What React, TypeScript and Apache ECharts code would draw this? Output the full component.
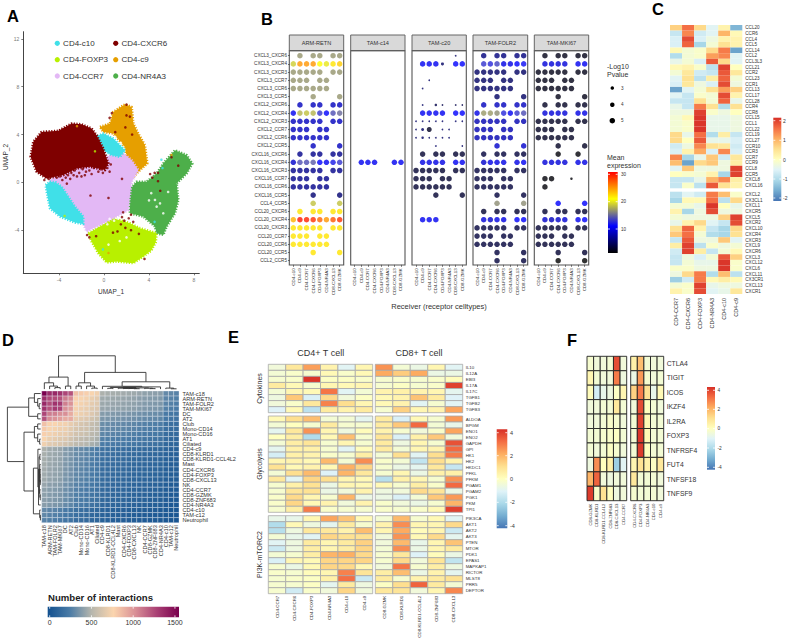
import React, { useEffect, useRef } from "react";
import * as echarts from "echarts";

const FONT = "Liberation Sans";

// ---------- Panel A ----------
const UMAP_X_TICKS = [-4, 0, 4, 8];
const UMAP_Y_TICKS = [-4, 0, 4, 8, 12];
const CCR7_SHAPE = [[-4.8,0.19],[-3.61,1.03],[-1.54,1.58],[0.24,2.14],[1.42,2.69],[2.46,1.86],[3.05,1.03],[2.46,0.06],[2.25,-1.47],[2.16,-2.31],[1.13,-2.86],[-0.06,-3.42],[-1.54,-4.11],[-1.99,-3.14],[-3.91,-2.03],[-4.8,-0.92]];
const CXCR6_SHAPE = [[-6.52,2.14],[-6.28,3.39],[-5.54,4.22],[-4.06,4.31],[-2.87,4.92],[-1.99,4.86],[-1.1,4.5],[-0.65,3.94],[-0.36,3.39],[-0.06,2.83],[0.39,1.58],[0.09,1.03],[-1.24,1.31],[-2.43,1.17],[-3.61,0.61],[-5.1,0.33],[-5.99,0.89]];
const C10_SHAPE_A = [[-5.19,-0.22],[-4.8,0.06],[-4.3,0.0],[-3.76,-0.36],[-3.17,-1.19],[-2.58,-2.03],[-1.84,-2.86],[-1.84,-3.47],[-2.58,-3.36],[-3.91,-2.86],[-4.8,-2.17],[-5.01,-1.19]];
const C10_SHAPE_B = [[-0.8,3.81],[-0.06,4.08],[0.83,3.67],[1.87,2.69],[1.42,2.14],[0.68,2.28],[-0.06,2.69],[-0.5,3.39]];
const C9_SHAPE = [[-0.36,4.64],[0.53,4.92],[0.83,5.89],[1.87,6.53],[2.46,6.31],[2.61,4.92],[3.05,4.08],[3.64,3.11],[3.85,1.58],[3.2,1.03],[2.61,0.47],[2.16,1.03],[1.87,2.97],[0.83,4.08],[-0.06,4.22]];
const NR4A3_SHAPE = [[2.25,-0.64],[2.9,0.06],[3.79,0.06],[4.68,0.75],[5.27,1.58],[6.31,2.69],[7.35,2.28],[7.85,1.58],[7.35,0.75],[6.46,-0.08],[6.61,-1.47],[6.31,-2.58],[5.57,-3.69],[5.27,-4.39],[4.68,-4.25],[4.53,-3.69],[3.5,-2.86],[2.31,-2.58]];
const FOXP3_SHAPE = [[-1.39,-4.25],[-0.36,-3.69],[0.83,-3.0],[2.31,-3.42],[3.2,-3.83],[4.68,-4.25],[4.6,-5.0],[4.2,-5.7],[3.5,-6.19],[2.61,-6.75],[1.13,-6.61],[0.24,-6.69],[-0.5,-5.92],[-1.1,-4.94]];
const CXCR6_SPECKS = [[-4.9,0.3],[-4.4,0.7],[-3.9,0.5],[-3.5,0.9],[-3.2,0.6],[-2.9,0.8],[-2.6,1.0],[-2.2,0.8],[-1.9,1.1],[-1.6,0.9],[-1.3,1.0],[-0.9,1.2],[-0.5,0.9],[-0.1,0.8],[0.3,1.2],[-5.3,0.2],[-4.7,0.5],[-4.2,0.4],[-3.7,0.2],[-3.4,0.4],[-3.0,0.3],[-2.7,0.6],[-2.4,0.5],[-2.0,0.5],[-1.7,0.6],[-1.1,0.7],[-0.7,1.4],[-0.3,1.1],[0.5,0.9],[0.6,1.5],[0.7,5.8],[0.5,5.4],[2.0,6.5],[2.0,5.6],[2.3,5.5],[1.9,4.6],[2.5,4.0],[1.0,4.2],[4.1,0.7],[4.5,0.8],[4.8,0.8],[4.3,0.4],[6.0,2.1],[6.6,1.4],[5.0,-0.7],[4.8,0.1],[1.7,-2.5],[1.6,-2.9],[1.8,-3.2],[2.2,-3.0],[2.4,-2.7],[2.6,-3.3],[1.5,-3.5],[1.9,-3.8],[2.4,-4.0],[3.1,-4.3],[1.2,-4.1],[0.8,-4.2],[3.6,-6.4],[-1.5,-4.4],[-1.3,-4.6],[-0.7,-4.5],[-3.3,-0.1],[-1.2,-1.1],[0.4,-1.3],[1.6,0.3],[-0.4,1.9]];
const C10_SPECKS = [[5.1,1.9],[5.2,1.2],[4.5,-3.3],[-0.1,-5.6]];
const C9_SPECKS = [[6.0,2.3],[-2.4,4.7],[0.4,-5.9]];
const FOXP3_SPECKS = [[-0.8,2.6],[-3.5,-2.8]];
const GAP_SPECKS = [[4.68,-2.03],[4.98,-1.75],[4.53,-1.47],[5.27,-2.58],[4.2,-0.9],[4.0,-1.5],[5.7,-0.8],[0.9,-3.2],[0.3,-3.5],[1.4,-4.9],[0.4,-5.2],[2.0,-4.6],[0.5,-3.05],[1.2,-3.0],[1.0,3.8],[1.5,3.3]];

// ---------- Panel B ----------
const B_ROWS = ["CXCL3_CXCR6","CXCL3_CXCR4","CXCL3_CXCR3","CXCL3_CCR7","CXCL3_CCR6","CXCL3_CCR5","CXCL2_CXCR6","CXCL2_CXCR4","CXCL2_CXCR3","CXCL2_CCR7","CXCL2_CCR6","CXCL2_CCR5","CXCL16_CXCR6","CXCL16_CXCR4","CXCL16_CXCR3","CXCL16_CCR7","CXCL16_CCR6","CXCL16_CCR5","CCL4_CCR5","CCL20_CXCR6","CCL20_CXCR4","CCL20_CXCR3","CCL20_CCR7","CCL20_CCR6","CCL20_CCR5","CCL2_CCR5"];
const B_COLS = ["CD4-c10","CD4-c9","CD4-CCR7","CD4-CXCR6","CD4-FOXP3","CD4-NR4A3","CD8-CXCL13","CD8-GZMK"];
const ARM_RETN = [
[0,16.8,0,16.8,16.8,0,16.8,16.8],[19,25,25,25,21,20,22,23],[16.8,16.8,16.8,16.8,16.8,0,16.8,16.8],[16.8,16.8,16.8,0,16.8,16.8,0,0],[16.8,16.8,16.8,16.8,16.8,16.8,0,0],[0,0,0,16.8,0,0,0,16.8],
[0,8.5,0,8.5,8.5,0,8.5,8.5],[10.5,18,18.5,18,13,11,14,15],[8.5,8.5,8.5,8.5,8.5,0,8.5,8.5],[8.5,8.5,8.5,0,8.5,8.5,0,0],[8.5,8.5,8.5,8.5,8.5,8.5,0,0],[0,0,0,8.5,0,0,0,8.5],
[0,6.5,0,6.5,6.5,0,6.5,6.5],[9,14,14,14.5,11,10.5,12,13],[6.5,6.5,6.5,6.5,6.5,0,6.5,6.5],[6.5,6.5,6.5,0,6.5,6.5,0,0],[6.5,6.5,6.5,6.5,6.5,6.5,0,0],[0,0,0,5.5,0,0,0,5.5],
[0,0,0,18.5,0,0,0,18.5],[0,22,0,22,22,0,22,22],[24,30,29.5,29,27,25,27.5,29],[22,22,22,22,22,0,22,22],[22,22,22,0,22,22,0,0],[22,22,22,22,22,22,0,0],[0,0,0,22,0,0,0,22],[0,0,0,0,0,0,0,0]];
const Z8 = [0,0,0,0,0,0,0,0];
const TAM_C14 = [Z8,Z8,Z8,Z8,Z8,Z8,Z8,Z8,Z8,Z8,Z8,Z8,Z8,[0,10.5,10.5,10.5,0,0,10.5,10.5],Z8,Z8,Z8,Z8,Z8,Z8,Z8,Z8,Z8,Z8,Z8,Z8];
const TAM_C20 = [
[0,0,0,0,0,0,5,0],[0,10.5,10.5,10.5,5,0,11,11],Z8,[0,0,5,0,0,0,0,0],[0,5,0,0,0,0,0,0],Z8,
[0,5,0,4,4,0,4,4],[0,10.5,10.5,10.5,10.5,0,11,11],[5,5,5,5,5,0,5,5],[5,5,2.5,0,5,5,0,0],[5,5,5,5,5,5,0,0],[0,0,0,5,0,0,0,5],
[0,3,0,3,3,0,3,3],[0,10,10,10,10,0,10.5,10.5],[3,3,3,3,3,0,3,3],[3,3,3,0,3,3,0,0],[3,3,3,3,3,3,0,0],[0,0,0,3,0,0,0,3],
Z8,Z8,[0,10.5,10.5,10.5,0,0,0,0],Z8,Z8,Z8,Z8,Z8];
const TAM_FOLR2 = [
[0,6,0,6,6,0,6,6],[0,13,12.5,13.5,10,10,11,11.5],[5,5,5,5,5,0,5,5],[5,5,5,0,5,5,0,0],[5,5,5,5,5,5,0,0],[0,0,0,5,0,0,0,5],
[0,8.5,0,8.5,8.5,0,8.5,8.5],[10,17,17,16.5,12.5,10.5,13,14],[8,8,8,8,8,0,8,8],[8,8,8,0,8,8,0,0],[8,8,8,8,8,8,0,0],[0,0,0,9,0,0,0,9],
[0,3.5,0,3.5,3.5,0,3.5,3.5],[0,9,10,10,10,0,10,10.5],[3.5,3.5,3.5,3.5,3.5,0,3.5,3.5],[3.5,3.5,3.5,0,3.5,3.5,0,0],[3.5,3.5,3.5,3.5,3.5,3.5,0,0],[0,0,0,3.5,0,0,0,3.5],
[0,0,0,16.5,0,0,0,16.5],[0,3,0,3,3,0,3,3],[0,9.5,9,10,10,0,11,11],[3.5,3.5,3.5,3.5,3.5,0,3.5,3.5],[3.5,3.5,3.5,0,3.5,3.5,0,0],[3.5,3.5,3.5,3.5,3.5,3.5,0,0],[0,0,0,3.5,0,0,0,3.5],[0,0,0,3.5,0,0,0,3.5]];
const TAM_MKI67 = [
[0,2,0,2,2,0,2,2],[0,9.5,9.5,9.5,9.5,0,10.5,10.5],[2,2,2,2,2,0,2,2],[2,2,2,0,2,2,0,0],[2,2,2,2,2,2,0,0],[0,0,0,2,0,0,0,2],
[0,2.5,0,2.5,2.5,0,2.5,2.5],[0,9.5,9.5,9.5,9.5,0,10,10],[2.5,2.5,2.5,2.5,2.5,0,2.5,2.5],[2.5,2.5,2.5,0,2.5,2.5,0,0],[2.5,2.5,2.5,2.5,2.5,2.5,0,0],[0,0,0,2.5,0,0,0,2.5],
[0,0,0,1.5,0,0,1.5,0],[0,9.5,9.5,9.5,9.5,0,10,10],Z8,[0,1.5,1.5,0,0,1.5,0,0],[0,1.5,0,0,0,0,0,0],Z8,
[0,0,0,11,0,0,0,11],[0,3,0,3,3,0,3,3],[0,9,8.5,9,9.5,0,10.5,11],[3,3,3,3,3,0,3,3],[3,3,3,0,3,3,0,0],[3,3,3,3,3,3,0,0],[0,0,0,3,0,0,0,3],[0,0,0,1,0,0,0,1]];
const C20_LOW_P = [[0,6,1.2],[3,2,1.2],[4,1,1.2],[1,4,2.5],[6,1,1.2],[6,3,2],[6,4,1.2],[6,6,1.2],[6,7,1.2],[8,0,1.2],[8,1,1.2],[8,2,1.2],[8,3,1.2],[8,4,1.2],[8,6,1.2],[8,7,1.2],[9,0,1.2],[9,1,2.5],[9,2,4.5],[9,4,1.2],[9,5,1.2],[10,0,1.2],[10,1,2],[10,2,1.2],[10,3,1.2],[10,4,1.2],[10,5,1.2],[11,3,1.2],[11,7,1.2]];
const MKI67_LOW_P = [[15,5,2]];
const B_FACET_NAMES = ["ARM-RETN","TAM-c14","TAM-c20","TAM-FOLR2","TAM-MKI67"];

// ---------- Panel C ----------
const C_COLS = ["CD4-CCR7","CD4-CXCR6","CD4-FOXP3","CD4-NR4A3","CD4-c10","CD4-c9"];
const C_ROWS_CCL = ["CCL20","CCR6","CCL4","CCL5","CCL14","CCL2","CCL3L3","CCL21","CCR2","CCL23","CCR1","CCL13","CCL17","CCL28","CCR4","CCR8","CCL15","CCL1","CCL22","CCL19","CCL27","CCR10","CCR3","CCR7","CCR9","CCL8","CCR5","CXCL8","CXCL16"];
const C_VALUES_CCL = [
[0.7,1.6,0.6,-0.5,0.2,-1.5],[-0.8,1.4,-0.7,-0.5,1.0,0.1],[-0.6,1.9,-0.6,-0.3,0.2,0.2],[-0.6,1.7,-1.1,-0.2,0.5,0.2],[0.1,-0.2,-0.1,0.6,1.5,-1.7],[-1.0,-0.2,-0.1,1.2,1.4,-0.5],[-0.4,-0.2,-0.6,1.8,0.6,-0.5],[0.1,0.2,-0.1,-0.9,2.0,0.0],[-0.2,0.4,-0.7,-0.8,1.8,0.4],[-0.5,0.5,-0.9,0.3,1.7,-0.2],[-0.6,0.4,-0.3,-0.6,1.9,-0.3],[-1.7,-0.5,-0.2,0.5,1.2,0.7],[-0.5,-0.8,-0.1,-0.2,1.9,0.2],[-0.8,-0.8,0.5,-0.2,1.7,-0.4],[-0.4,-0.8,1.5,0.5,-1.0,0.5],[-0.3,-0.3,2.0,-0.1,-0.3,0],[-0.2,0.1,2.1,-0.4,-0.4,-0.3],[-0.2,-0.1,2.1,-0.4,-0.4,-0.3],[-0.2,-0.1,2.1,-0.4,-0.4,-0.3],[0.6,-0.4,1.6,-1.0,0.3,-0.8],[0.6,0,1.8,-0.4,-0.4,-0.6],[-0.7,-0.3,1.4,0.5,0.4,-0.7],[-0.6,0.2,1.1,-0.6,1.4,-0.6],[1.4,-1.1,-0.4,0.8,-0.7,0.4],[0.9,-1.7,0.6,0.8,-0.3,0.3],[-0.5,0.8,-0.3,-0.3,-0.3,2.0],[0,-0.1,-0.2,0.2,-1.1,2.0],[-0.8,-0.8,-0.4,1.0,1.4,0.3],[-0.8,-0.1,-0.9,1.8,0.5,0.2]];
const C_ROWS_CXC = ["CXCL2","CX3CL1","CXCL1","CXCR5","CXCL5","CXCR2","CXCL10","CXCR4","CXCR3","CXCL9","CXCR6","CXCL3","CXCL12","CXCL6","CXCL11","CX3CR1","CXCL13","CXCR1"];
const C_VALUES_CXC = [
[-0.9,-0.5,-0.7,1.5,0.9,-0.1],[-1.1,0.1,0.1,1.6,-0.9,0.6],[-0.2,-0.2,-0.4,2.1,0,-0.4],[0.2,-1.1,-0.3,1.9,-0.3,-0.3],[-0.2,-0.3,-0.3,-0.3,0.7,2.0],[-0.4,0.2,0.6,-0.5,-0.8,1.9],[0.5,1.7,0.2,-0.8,-1.1,0.6],[0.8,1.6,-0.2,-1.0,-1.1,0.5],[-0.8,1.8,-0.3,-0.3,0.8,-0.5],[0.3,2.0,-0.9,-0.1,-0.3,-0.2],[-0.7,2.0,0.3,-0.8,-0.2,0.1],[-0.8,-0.3,-0.6,-0.2,1.8,0.7],[-0.8,-0.2,-0.4,-0.4,2.1,-0.1],[-0.1,-0.1,-0.3,-0.3,2.1,-0.1],[-0.3,0.6,1.5,-1.0,0.9,-0.9],[-1.2,-0.7,1.5,0.1,0.3,0.1],[-0.2,-0.1,2.0,-0.4,-0.3,-0.3],[0.2,-0.1,1.9,-0.5,-0.4,0.4]];

// ---------- Panel D ----------
const D_NAMES = ["TAM-c18","ARM-RETN","TAM-FOLR2","TAM-MKI67","DC","AT2","Club","Mono-CD14","Mono-CD16","AT1","Ciliated","CD4-c9","CD8-KLRD1","CD8-KLRD1-CCL4L2","Mast","CD4-CXCR6","CD4-FOXP3","CD8-CXCL13","NK","CD4-CCR7","CD8-GZMK","CD8-ZNF683","CD4-NR4A3","CD4-c10","TAM-c12","Neutrophil"];
const D_UPPER = [
[1500,1320,1340,1300,1230,1190,820,790,770,740,710,480,470,465,460,455,450,445,430,410,405,400,395,310,300,280],
[1220,1210,1190,1060,1010,760,740,720,690,660,450,445,440,435,430,425,420,400,390,385,380,375,290,280,265],
[1300,1270,1050,985,745,725,705,670,650,440,435,430,425,420,415,410,395,380,375,370,365,285,270,255],
[1240,1000,950,725,705,685,650,630,430,425,420,415,410,405,400,385,370,365,360,355,270,260,245],
[1000,900,720,700,680,640,600,385,380,375,370,365,360,355,340,330,325,320,315,240,225,215],
[900,680,660,640,600,570,365,360,355,350,345,340,335,320,310,305,300,295,225,215,205],
[650,620,600,560,530,325,320,315,310,305,300,295,280,270,265,260,255,190,180,170],
[600,590,540,520,315,310,305,300,295,290,285,270,260,255,250,245,180,170,165],
[570,520,500,295,290,285,280,275,270,265,250,240,235,230,225,165,155,150],
[500,470,270,265,260,255,250,245,240,230,220,215,210,205,150,140,130],
[450,250,245,240,235,230,225,220,210,200,195,190,185,135,125,120],
[200,190,185,175,170,165,160,155,150,150,145,140,115,105,100],
[180,175,165,160,155,150,145,140,140,135,130,105,100,95],
[170,160,155,150,145,140,135,135,130,125,100,95,90],
[155,150,145,140,135,130,130,125,120,95,90,85],
[145,140,135,130,125,125,120,115,90,85,80],
[135,130,125,120,120,115,110,85,80,75],
[125,120,115,115,110,105,80,75,70],
[115,110,110,105,100,75,70,65],
[105,105,100,95,70,65,60],
[100,95,90,70,65,60],
[90,85,65,60,55],
[80,60,55,50],
[50,45,40],
[40,35],
[30]];
// hierarchical tree: [height, left, right]; leaves are positions in D_NAMES
const D_TREE: any = [34.3,
  [13, [7.3, 0, [4, 1, [2.5, 2, 3]]], [4, 4, 5]],
  [17.7,
    [7.3, [4, 6, 7], [4, 8, [2, 9, 10]]],
    [8.3,
      [3.8, 11, [3.2, [2.6, [1.8, 12, 13], [2.2, [1.9, 14, [1.7, 15, [1.6, 16, [1.4, 17, 18]]]], [1.9, 19, [1.5, 20, 21]]]], 22]],
      [2, 23, [1.3, 24, 25]]]]];
const D_TICKS = [0, 500, 1000, 1500];

// ---------- Panel E ----------
const E_CD4 = ["CD4-CCR7","CD4-CXCR6","CD4-FOXP3","CD4-NR4A3","CD4-c10","CD4-c9"];
const E_CD8 = ["CD8-GZMK","CD8-KLRD1","CD8-KLRD1-CCL4L2","CD8-ZNF683","CD8-CXCL13"];
const E_CYTO_ROWS = ["IL10","IL12A","EBI3","IL17A","IL17C","TGFB1","TGFB2","TGFB3"];
const E_CYTO_CD4 = [[-0.5,0.8,2.4,0.4,-1.0,0.3],[-0.4,-0.2,-0.3,0.2,-0.2,0.2],[-0.3,-0.2,4.2,-0.1,-0.1,-0.2],[0.7,0.2,-0.3,0.3,0.2,0.3],[-0.4,0.3,0.2,3.1,-1.0,-0.4],[-0.6,1.6,-1.2,1.2,-0.5,-0.1],[-0.5,-0.2,0.8,2.9,1.1,0.3],[-1.1,0.2,-1.8,0.7,0.4,0.7]];
const E_CYTO_CD8 = [[2.6,-0.4,-0.7,0.3,-1.0],[2.2,1.5,2.2,-0.7,-0.7],[-0.3,-0.2,-0.3,-0.2,0.1],[-0.3,-0.1,-0.3,-0.2,4.0],[0.4,0.5,0.4,0.3,-0.9],[0.2,0.4,1.7,0.7,-1.1],[0.2,0.4,-1.0,-0.3,-1.0],[-0.3,1.4,0.3,0.4,2.3]];
const E_GLY_ROWS = ["ALDOA","BPGM","ENO1","ENO2","GAPDH","GPI","HK1","HK2","HKDC1","PFKL","PFKM","PGAM1","PGAM2","PGK1","PKM","TPI1"];
const E_GLY_CD4 = [[0.2,1.1,1.8,-0.4,-0.4,-0.9],[-0.4,0,-0.3,0.7,-0.3,-0.3],[-0.9,0.8,2.6,0.3,-0.6,0.1],[0,0.6,-2.0,0.2,1.8,-0.3],[-0.4,0.6,0.9,-0.3,0.3,-0.3],[-0.9,0.5,0.5,-0.3,-1.0,0.1],[-1.3,0.5,0.4,-0.2,-0.3,0.6],[0.3,0.4,0.2,1.9,-0.4,2.7],[1.0,0.2,0.4,0.2,2.1,1.3],[-0.4,1.1,1.9,-1.1,2.0,0.8],[0.8,-1.0,1.3,1.1,0.3,0.2],[-0.3,0.5,1.0,-0.7,0.3,0.2],[-0.3,0.9,1.0,-0.7,-0.5,0.4],[-0.2,1.2,0.3,-0.3,2.0,-0.7],[-0.2,1.3,0.2,0.4,-0.5,0.4],[-0.3,0.6,3.0,-0.2,-0.3,-0.3]];
const E_GLY_CD8 = [[0.7,-1.2,0.2,-0.3,2.5],[0.7,1.6,3.3,-0.4,-0.8],[0.4,-0.3,-0.5,-0.2,2.3],[0.9,-1.2,0.5,1.6,-0.5],[0.7,-0.6,0.3,-0.3,3.7],[0.7,-0.4,0.3,0.4,3.3],[-0.4,1.1,-1.0,1.1,3.0],[-0.2,-0.4,-1.7,1.1,0.4],[-0.3,-0.7,-0.9,0.8,-1.6],[-0.3,0.3,-0.7,0.5,0.5],[-1.9,0.5,0.3,-0.3,2.6],[0.2,-0.3,0.6,-0.2,3.3],[-0.6,-0.5,1.2,0.9,-0.7],[-0.7,-1.2,-0.4,1.6,2.5],[-0.2,-0.5,-0.7,-0.3,2.0],[-0.2,-0.3,-0.2,0.2,4.0]];
const E_PI3K_ROWS = ["PIK3CA","AKT1","AKT2","AKT3","PTEN","MTOR","PDK1","EPAS1","MAPKAP1","RICTOR","MLST8","PRR5","DEPTOR"];
const E_PI3K_CD4 = [[-0.8,-0.8,0.3,2.3,1.7,0.2],[-2.0,0.2,-0.6,-0.9,0.7,-0.3],[-1.9,-0.6,0.8,0.8,0.4,1.8],[-0.4,-0.8,-1.0,1.3,1.0,1.0],[-1.0,-0.6,0.7,0.3,0.7,1.4],[-1.5,-0.6,0.6,0.3,0.6,1.3],[-0.4,-0.3,0.6,2.0,2.1,1.2],[-1.2,0.3,0.2,1.3,1.3,1.3],[-0.3,-0.7,0.2,1.3,1.2,0.2],[-0.2,-0.3,0.1,0.3,2.9,0.9],[-0.3,-0.2,-0.1,0.5,3.2,-1.5],[-0.3,-0.3,-0.1,-0.9,0.7,-0.6],[-0.3,-1.4,-0.2,-0.5,1.3,-0.5]];
const E_PI3K_CD8 = [[-0.4,1.9,-0.3,0.2,-1.0],[0.4,2.7,0.3,0.3,1.2],[0.3,2.2,0.1,0.3,-1.5],[-0.5,2.6,0.2,1.2,-0.9],[-0.5,1.9,-0.8,0.3,1.7],[-0.4,2.7,-0.7,0.3,0.7],[-0.3,0.8,-1.1,0.1,-0.7],[-0.3,1.2,-0.5,0.9,-1.7],[-0.5,3.1,-0.3,0.6,-0.6],[0.6,1.8,-0.7,0.4,-0.9],[0.7,-0.3,0.4,0.7,1.0],[-0.1,1.1,3.4,0.7,-0.4],[0.8,0.9,-0.5,0.3,2.8]];

// ---------- Panel F ----------
const F_ROWS = ["CTLA4","TIGIT","ICOS","IKZF4","IL2RA","FOXP3","TNFRSF4","FUT4","TNFSF18","TNFSF9"];
const F_COLS_A = ["CD8-GZMK","CD8-KLRD1","CD8-KLRD1-CCL4L2","CD8-ZNF683","CD8-CXCL13","CD4-CCR7"];
const F_COLS_B = ["CD4-CXCR6","CD4-FOXP3","CD4-NR4A3","CD4-c10","CD4-c9"];
const F_VALUES_A = [[-0.3,-0.5,-0.5,-0.4,3.8,-0.5],[0.3,-0.4,-0.5,-0.5,3.0,-0.6],[0.1,-1.3,-0.8,-0.6,-0.1,0.3],[-0.5,-0.5,-0.4,-0.4,0.8,-0.4],[-0.5,-0.5,-0.4,-0.2,-0.3,-0.5],[-0.4,-0.4,-0.3,-0.2,-0.1,-0.4],[-0.4,-0.5,-0.4,-0.1,-0.3,-0.5],[-0.6,2.7,0,0.5,-2.4,-1.0],[2.0,3.4,-0.5,-0.6,-0.5,-0.5],[4.1,-0.2,1.0,0,-0.6,-0.5]];
const F_VALUES_B = [[0.5,1.8,-0.4,-0.5,-0.5],[-0.7,2.5,-0.3,-0.5,-0.4],[1.4,3.0,1.0,-0.8,0.2],[-0.5,3.8,0,-0.4,-0.5],[-0.4,4.0,0.2,-0.4,-0.4],[-0.4,4.2,0.2,-0.4,-0.4],[-0.4,4.1,0,-0.4,-0.4],[0.3,1.0,0.5,-0.1,0.8],[0.8,-0.4,-0.4,-0.4,-0.5],[-0.3,-0.4,-0.4,-0.4,-0.5]];

const RDYLBU = ["#4575b4","#74add1","#abd9e9","#e0f3f8","#ffffbf","#fee090","#fdae61","#f46d43","#d73027"];
const BLUE_YELLOW_RED = ["#000000","#0000ff","#ffff00","#ff0000"];
const D_RAMP = ["#12508f","#4a7ba6","#b6b6ad","#fbd5ae","#d98f96","#a93f74","#7a004e"];

const hex = (c: string) => [1, 3, 5].map((i) => parseInt(c.slice(i, i + 2), 16));
function ramp(stops: string[], t: number) {
  const u = Math.max(0, Math.min(1, t)) * (stops.length - 1);
  const i = Math.min(stops.length - 2, Math.floor(u));
  const a = hex(stops[i]), b = hex(stops[i + 1]), f = u - i;
  return `rgb(${a.map((v, k) => Math.round(v + (b[k] - v) * f)).join(",")})`;
}

function buildOption() {
  const grid: any[] = [], xAxis: any[] = [], yAxis: any[] = [], series: any[] = [], g: any[] = [];

  const txt = (text: string, x: number, y: number, size: number, o: any = {}) => g.push({
    type: "text", x, y, rotation: o.rot || 0, silent: true, z: 5,
    style: { text, fontSize: size, fontFamily: FONT, fontWeight: o.bold ? "bold" : "normal", fill: o.color || "#333",
      align: o.align || "left", textAlign: o.align || "left", verticalAlign: "middle", textVerticalAlign: "middle" },
  });
  const line = (x1: number, y1: number, x2: number, y2: number, stroke: string, lineWidth = 0.8) =>
    g.push({ type: "line", silent: true, z: 6, shape: { x1, y1, x2, y2 }, style: { stroke, lineWidth } });

  const cat = (data: string[], idx: number, o: any = {}) => ({
    type: "category", data, gridIndex: idx, inverse: !!o.inverse, position: o.position,
    axisLine: { show: false },
    axisTick: { show: !!o.tick, length: 2, alignWithLabel: true, lineStyle: { color: "#333", width: 0.7 } },
    splitLine: { show: false }, splitArea: { show: false },
    axisLabel: { show: !!o.size, interval: 0, fontSize: o.size || 5, color: o.color || "#333", margin: o.margin ?? 2, rotate: o.rotate || 0, fontFamily: FONT },
  });

  const addHeat = (r: number[], cols: string[], rows: string[], values: number[][], color: (v: number) => string, border: any, o: any) => {
    const idx = grid.length;
    grid.push({ left: r[0], top: r[1], width: r[2], height: r[3] });
    xAxis.push(cat(cols, idx, o.colSize ? { size: o.colSize, rotate: 90, margin: o.colMargin ?? 2, color: o.labelColor } : {}));
    yAxis.push(cat(rows, idx, o.rowSize ? { inverse: true, position: "right", size: o.rowSize, margin: o.rowMargin ?? 3, color: o.labelColor } : { inverse: true }));
    const data: number[][] = [];
    values.forEach((row, y) => row.forEach((v, x) => data.push([x, y, v])));
    series.push({
      type: "custom", xAxisIndex: idx, yAxisIndex: idx, data, encode: { x: 0, y: 1 }, silent: true, clip: false,
      renderItem: (_: any, api: any) => {
        const c = api.coord([api.value(0), api.value(1)]);
        const s = api.size([1, 1]);
        return { type: "rect", shape: { x: c[0] - s[0] / 2, y: c[1] - s[1] / 2, width: s[0], height: s[1] },
          style: { fill: color(api.value(2)), stroke: border.color, lineWidth: border.width } };
      },
    });
    return idx;
  };

  const bar = (x: number, y: number, w: number, h: number, stops: string[], ticks: [string, number][], labelX: number, size: number) => {
    const cs = stops.map((color, i) => ({ offset: i / (stops.length - 1), color }));
    g.push({ type: "rect", silent: true, z: 4, shape: { x, y, width: w, height: h },
      style: { fill: new (echarts as any).graphic.LinearGradient(0, 1, 0, 0, cs) } });
    ticks.forEach(([t, ty]) => {
      line(x, ty, x + 2, ty, "#fff"); line(x + w - 2, ty, x + w, ty, "#fff");
      txt(t, labelX, ty, size);
    });
  };

  // ----- A -----
  {
    const idx = grid.length;
    grid.push({ left: 23.3, top: 31.7, width: 176, height: 241.6 });
    const axisCommon = {
      gridIndex: idx, type: "value", splitLine: { show: false },
      axisLine: { show: true, onZero: false, lineStyle: { color: "#444", width: 1 } },
    };
    xAxis.push({ ...axisCommon, min: -7.17, max: 8.47,
      axisTick: { length: 2, lineStyle: { color: "#444", width: 0.7 }, customValues: UMAP_X_TICKS },
      axisLabel: { fontSize: 5, color: "#777", margin: 4, fontFamily: FONT, customValues: UMAP_X_TICKS } });
    yAxis.push({ ...axisCommon, min: -7.6, max: 12.6,
      axisTick: { length: 2, lineStyle: { color: "#444", width: 0.7 }, customValues: UMAP_Y_TICKS },
      axisLabel: { fontSize: 5, color: "#777", margin: 4, fontFamily: FONT, customValues: UMAP_Y_TICKS } });
    const blob = (shape: number[][], fill: string) => series.push({
      type: "custom", xAxisIndex: idx, yAxisIndex: idx, data: shape, encode: { x: 0, y: 1 }, silent: true,
      renderItem: (p: any, api: any) => {
        if (p.dataIndex !== 0) return null as any;
        return { type: "polygon", shape: { points: shape.map((q) => api.coord(q)) },
          style: { fill, stroke: fill, lineWidth: 2.6, lineDash: [1.2, 1.5], lineJoin: "round" } };
      },
    });
    const dots = (data: number[][], color: string, size: number, name?: string) => series.push({
      type: "scatter", name, xAxisIndex: idx, yAxisIndex: idx, data, symbolSize: size, silent: true, itemStyle: { color },
    });
    blob(NR4A3_SHAPE, "#4daf4a");
    blob(C9_SHAPE, "#e69f00");
    blob(FOXP3_SHAPE, "#b8f000");
    blob(CCR7_SHAPE, "#e3b8f5");
    blob(C10_SHAPE_A, "#40e0e8");
    blob(C10_SHAPE_B, "#40e0e8");
    blob(CXCR6_SHAPE, "#7f0000");
    dots(GAP_SPECKS, "#ffffff", 2.6);
    dots(C10_SPECKS, "#40e0e8", 2.5);
    dots(C9_SPECKS, "#e69f00", 2.5);
    dots(FOXP3_SPECKS, "#b8f000", 2.5);
    dots(CXCR6_SPECKS, "#7f0000", 2.6);
    txt("UMAP_1", 111, 291, 6.5, { align: "center" });
    txt("UMAP_2", 5, 157, 6.5, { align: "center", rot: Math.PI / 2 });
    const legend: [string, string, number, number][] = [
      ["CD4-c10", "#40e0e8", 57.3, 43.3], ["CD4-CXCR6", "#7f0000", 115.7, 43.3],
      ["CD4-FOXP3", "#b8f000", 57.3, 59.7], ["CD4-c9", "#e69f00", 115.7, 59.7],
      ["CD4-CCR7", "#e3b8f5", 57.3, 76], ["CD4-NR4A3", "#4daf4a", 115.7, 76],
    ];
    legend.forEach(([n, c, x, y]) => {
      g.push({ type: "circle", silent: true, z: 5, shape: { cx: x, cy: y, r: 2.6 }, style: { fill: c } });
      txt(n, x + 5.8, y, 8);
    });
  }

  // ----- B -----
  const colorB = (v: number) => ramp(BLUE_YELLOW_RED, (v - 1.2) / 29.6);
  const facets = [ARM_RETN, TAM_C14, TAM_C20, TAM_FOLR2, TAM_MKI67];
  const lowP: number[][][] = [[], [], C20_LOW_P, [], MKI67_LOW_P];
  const frameX = [[289.3, 343.7], [350.7, 405], [412, 466.3], [473, 527.7], [534.3, 588.7]];
  facets.forEach((m, f) => {
    const [l, r] = frameX[f];
    const idx = grid.length;
    grid.push({ left: l + 0.7, top: 51.6, width: r - l - 1.4, height: 213.2 });
    xAxis.push(cat(B_COLS, idx, { size: 4.4, rotate: 90, tick: true, margin: 3.5 }));
    yAxis.push(cat(B_ROWS, idx, f === 0 ? { inverse: true, size: 4.6, tick: true, margin: 3 } : { inverse: true }));
    const data: number[][] = [];
    m.forEach((row, y) => row.forEach((v, x) => {
      if (!v) return;
      const e = lowP[f].find((q) => q[0] === y && q[1] === x);
      data.push([x, y, v, (e ? e[2] : 5) + 0.5]);
    }));
    series.push({ type: "scatter", xAxisIndex: idx, yAxisIndex: idx, data, silent: true,
      symbolSize: (v: number[]) => v[3], itemStyle: { color: (p: any) => colorB(p.value[2]) } });
    g.push({ type: "rect", silent: true, z: 1, shape: { x: l, y: 35, width: r - l, height: 15.7 }, style: { fill: "#d9d9d9", stroke: "#666", lineWidth: 1 } });
    g.push({ type: "rect", silent: true, z: 1, shape: { x: l, y: 50.7, width: r - l, height: 214.3 }, style: { fill: "none", stroke: "#555", lineWidth: 1.1 } });
    txt(B_FACET_NAMES[f], (l + r) / 2, 43, 5.6, { align: "center" });
  });
  txt("Receiver (receptor celltypes)", 439, 306.5, 7.5, { align: "center" });
  txt("-Log10", 607, 66, 7);
  txt("Pvalue", 607, 74, 7);
  ([["3", 88, 3.5], ["4", 104.7, 4.5], ["5", 120.7, 5.5]] as [string, number, number][]).forEach(([t, y, d]) => {
    g.push({ type: "circle", silent: true, z: 5, shape: { cx: 612.3, cy: y, r: d / 2 }, style: { fill: "#000" } });
    txt(t, 621, y, 4.6);
  });
  txt("Mean", 607, 157.7, 7);
  txt("expression", 607, 165.3, 7);
  bar(608, 172, 9.7, 81, BLUE_YELLOW_RED, [["30", 174.3], ["20", 201.7], ["10", 229]], 621, 4.6);

  // ----- C -----
  const colorC = (v: number) => ramp(RDYLBU, (v + 2.15) / 4.3);
  addHeat([670, 25, 72.3, 163.3], C_COLS, C_ROWS_CCL, C_VALUES_CCL, colorC, { color: "none", width: 0 }, { rowSize: 4.6 });
  addHeat([670, 191.7, 72.3, 102.3], C_COLS, C_ROWS_CXC, C_VALUES_CXC, colorC, { color: "none", width: 0 }, { rowSize: 4.6, colSize: 5.5, colMargin: 4 });
  bar(773.3, 117.7, 8, 83.3, RDYLBU, [["2", 120.7], ["1", 140.3], ["0", 159.7], ["-1", 179], ["-2", 198]], 783, 5);

  // ----- D -----
  const D_MATRIX: number[][] = D_NAMES.map(() => D_NAMES.map(() => 0));
  D_UPPER.forEach((row, i) => row.forEach((v, k) => { D_MATRIX[i][i + k] = v; D_MATRIX[i + k][i] = v; }));
  addHeat([41.7, 391, 137.3, 131.7], D_NAMES, D_NAMES, D_MATRIX, (v) => ramp(D_RAMP, v / 1500), { color: "#e8eef3", width: 0.35 },
    { rowSize: 5.6, colSize: 5.6, rowMargin: 3.5, colMargin: 2.5 });
  const segs: number[][] = [];
  const walk = (n: any): [number, number] => {
    if (typeof n === "number") return [n + 0.5, 1];
    const [ax, ah] = walk(n[1]);
    const [bx, bh] = walk(n[2]);
    segs.push([ax, bx, ah, bh, n[0]]);
    return [(ax + bx) / 2, n[0]];
  };
  walk(D_TREE);
  const hidden = (idx: number, min: number, max: number, inverse = false) => ({
    type: "value", gridIndex: idx, min, max, inverse, show: false, splitLine: { show: false },
  });
  const dendro = (r: number[], horizontal: boolean) => {
    const idx = grid.length;
    grid.push({ left: r[0], top: r[1], width: r[2], height: r[3] });
    xAxis.push(horizontal ? hidden(idx, 0, 26) : hidden(idx, 0, 34.4, true));
    yAxis.push(horizontal ? hidden(idx, 0, 34.4) : hidden(idx, 0, 26, true));
    series.push({
      type: "custom", xAxisIndex: idx, yAxisIndex: idx, data: segs, silent: true, clip: false,
      encode: { x: horizontal ? 0 : 4, y: horizontal ? 4 : 0 },
      renderItem: (_: any, api: any) => {
        const [a, b, ha, hb, h] = [0, 1, 2, 3, 4].map((i) => api.value(i));
        const p = (pos: number, ht: number) => api.coord(horizontal ? [pos, ht] : [ht, pos]);
        return { type: "polyline", shape: { points: [p(a, ha), p(a, h), p(b, h), p(b, hb)] },
          style: { fill: "none", stroke: "#333", lineWidth: 0.9 } };
      },
    });
  };
  dendro([41.7, 355.7, 137.3, 34.4], true);
  dendro([7.3, 391, 34.4, 131.7], false);
  txt("Number of interactions", 48, 597, 9.6, { bold: true, color: "#222" });
  {
    const cs = D_RAMP.map((color, i) => ({ offset: i / (D_RAMP.length - 1), color }));
    g.push({ type: "rect", silent: true, z: 4, shape: { x: 47.7, y: 606.7, width: 131.3, height: 10.6 },
      style: { fill: new (echarts as any).graphic.LinearGradient(0, 0, 1, 0, cs) } });
    D_TICKS.forEach((t) => {
      const x = 49.7 + t * 0.0835;
      line(x, 606.7, x, 608.7, "#fff"); line(x, 615.3, x, 617.3, "#fff");
      txt(String(t), x, 622.7, 7, { align: "center" });
    });
  }

  // ----- E -----
  const colorE = (v: number) => ramp(RDYLBU, (v + 4.3) / 8.6);
  const eBorder = { color: "#a8a8a8", width: 0.8 };
  addHeat([268.3, 364.3, 104.4, 48.4], E_CD4, E_CYTO_ROWS, E_CYTO_CD4, colorE, eBorder, {});
  addHeat([375.3, 364.3, 87.4, 48.4], E_CD8, E_CYTO_ROWS, E_CYTO_CD8, colorE, eBorder, { rowSize: 4.4 });
  addHeat([268.3, 416, 104.4, 96.3], E_CD4, E_GLY_ROWS, E_GLY_CD4, colorE, eBorder, {});
  addHeat([375.3, 416, 87.4, 96.3], E_CD8, E_GLY_ROWS, E_GLY_CD8, colorE, eBorder, { rowSize: 4.4 });
  addHeat([268.3, 515.7, 104.4, 78], E_CD4, E_PI3K_ROWS, E_PI3K_CD4, colorE, eBorder, { colSize: 4.4, colMargin: 2 });
  addHeat([375.3, 515.7, 87.4, 78], E_CD8, E_PI3K_ROWS, E_PI3K_CD8, colorE, eBorder, { rowSize: 4.4, colSize: 4.4, colMargin: 2 });
  txt("CD4+ T cell", 320.7, 353, 9, { align: "center" });
  txt("CD8+ T cell", 419, 353, 9, { align: "center" });
  txt("Cytokines", 259, 388.5, 7, { align: "center", rot: Math.PI / 2 });
  txt("Glycolysis", 259, 464, 7, { align: "center", rot: Math.PI / 2 });
  txt("PI3K-mTORC2", 259, 554.5, 7, { align: "center", rot: Math.PI / 2 });
  bar(496.7, 429.3, 10.6, 99, RDYLBU, [["4", 432.7], ["2", 455.7], ["0", 479], ["-2", 502.3], ["-4", 525.7]], 510, 5.5);

  // ----- F -----
  const colorF = (v: number) => ramp(RDYLBU, (v + 4.3) / 8.6);
  const fBorder = { color: "#222", width: 0.9 };
  addHeat([587, 356.3, 39.7, 144.4], F_COLS_A, F_ROWS, F_VALUES_A, colorF, fBorder, { colSize: 4.2, colMargin: 3 });
  addHeat([630.7, 356.3, 33, 144.4], F_COLS_B, F_ROWS, F_VALUES_B, colorF, fBorder, { rowSize: 6.8, rowMargin: 3, colSize: 4.2, colMargin: 3 });
  bar(707, 387, 8, 82.7, RDYLBU, [["4", 390.3], ["2", 409.3], ["0", 428.7], ["-2", 448], ["-4", 467.3]], 717.5, 4.8);

  // ----- panel letters -----
  ([["A", 7, 16], ["B", 261, 19], ["C", 652, 9], ["D", 2, 340], ["E", 228, 337], ["F", 567, 340]] as [string, number, number][])
    .forEach(([t, x, y]) => txt(t, x, y, 16.5, { bold: true, color: "#000" }));

  return { animation: false, backgroundColor: "#fff", textStyle: { fontFamily: FONT }, grid, xAxis, yAxis, series, graphic: { elements: g } };
}

export default function App() {
  const ref = useRef<HTMLDivElement>(null);
  useEffect(() => {
    const chart = echarts.init(ref.current!, undefined, { renderer: "svg" });
    chart.setOption(buildOption() as any);
    return () => chart.dispose();
  }, []);
  return <div ref={ref} style={{ position: "absolute", left: 0, top: 0, width: 790, height: 643 }} />;
}
